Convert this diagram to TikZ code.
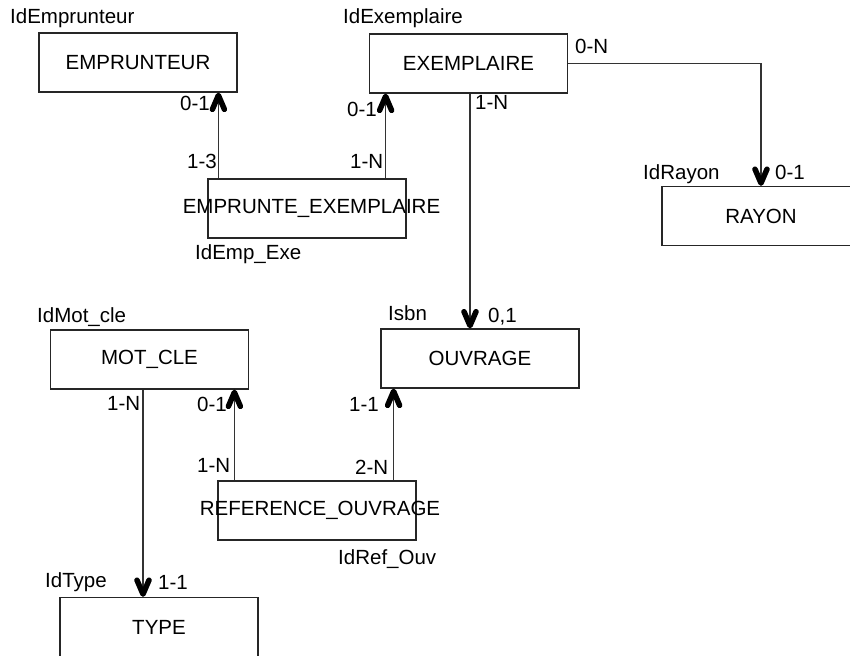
\documentclass[tikz,border=0pt]{standalone}
\usepackage{fontspec}
\setmainfont{Liberation Sans}
\usetikzlibrary{arrows.meta}

\tikzset{
  entite/.style={draw=black!85,line width=1.2pt,minimum width=198pt,
    minimum height=59pt,inner sep=0pt,font=\fontsize{20.5}{24}\selectfont},
  lbl/.style={inner sep=0pt,anchor=base west,font=\fontsize{20.5}{24}\selectfont},
  lien/.style={draw=black!80,line width=1.1pt,
    -{Straight Barb[length=14pt,width=12pt,line width=5.5pt,round,color=black]}},
}

\begin{document}
\begin{tikzpicture}[x=1pt,y=-1pt]
        \useasboundingbox (0,0) rectangle (850,655) ;
        % entites
        \node[entite] (emp) at (138,62.5) {EMPRUNTEUR} ;
        \node[entite] (ex) at (468.5,63.5) {EXEMPLAIRE} ;
        \node[entite] (empex) at (307,208.5) {\makebox[0pt]{\hspace{9pt}EMPRUNTE\_EXEMPLAIRE}} ;
        \node[entite] (rayon) at (761,216) {RAYON} ;
        \node[entite] (mc) at (149.5,359.5) {MOT\_CLE} ;
        \node[entite] (ouv) at (480,358.5) {OUVRAGE} ;
        \node[entite] (refouv) at (317,510.5) {\makebox[0pt]{\hspace{6pt}REFERENCE\_OUVRAGE}} ;
        \node[entite] (type) at (159,627) {TYPE} ;
        % identifiants
        \node[lbl] (idemp) at (10,24) {IdEmprunteur} ;
        \node[lbl] (idex) at (343,24) {IdExemplaire} ;
        \node[lbl] (idempex) at (195,259) {IdEmp\_Exe} ;
        \node[lbl] (idrayon) at (643,179) {IdRayon} ;
        \node[lbl] (idmc) at (37,322) {IdMot\_cle} ;
        \node[lbl] (isbn) at (388,320) {Isbn} ;
        \node[lbl] (idref) at (338,564) {IdRef\_Ouv} ;
        \node[lbl] (idtype) at (45,587) {IdType} ;
        % cardinalites
        \node[lbl] (c1) at (180,111) {0-1} ;
        \node[lbl] (c2) at (187,168) {1-3} ;
        \node[lbl] (c3) at (347,117) {0-1} ;
        \node[lbl] (c4) at (350,168) {1-N} ;
        \node[lbl] (c5) at (575,54) {0-N} ;
        \node[lbl] (c6) at (775,179) {0-1} ;
        \node[lbl] (c7) at (475,110) {1-N} ;
        \node[lbl] (c8) at (488,322) {0,1} ;
        \node[lbl] (c9) at (107,410) {1-N} ;
        \node[lbl] (c10) at (158,589) {1-1} ;
        \node[lbl] (c11) at (197,411) {0-1} ;
        \node[lbl] (c12) at (197,472) {1-N} ;
        \node[lbl] (c13) at (349,411) {1-1} ;
        \node[lbl] (c14) at (355,474) {2-N} ;
        % liens
        \draw[lien] ([xshift=11pt]empex.north west) -- ([xshift=11pt]empex.north west |- emp.south) ;
        \draw[lien] ([xshift=-21pt]empex.north east) -- ([xshift=-21pt]empex.north east |- ex.south) ;
        \draw[lien] (ex.east) -| (rayon.north) ;
        \draw[lien] ([xshift=1.5pt]ex.south) -- ([xshift=1.5pt]ex.south |- ouv.north) ;
        \draw[lien] ([xshift=17pt]refouv.north west) -- ([xshift=17pt]refouv.north west |- mc.south) ;
        \draw[lien] ([xshift=-23pt]refouv.north east) -- ([xshift=-23pt]refouv.north east |- ouv.south) ;
        \draw[lien] ([xshift=-6.5pt]mc.south) -- ([xshift=-6.5pt]mc.south |- type.north) ;
\end{tikzpicture}
\end{document}
